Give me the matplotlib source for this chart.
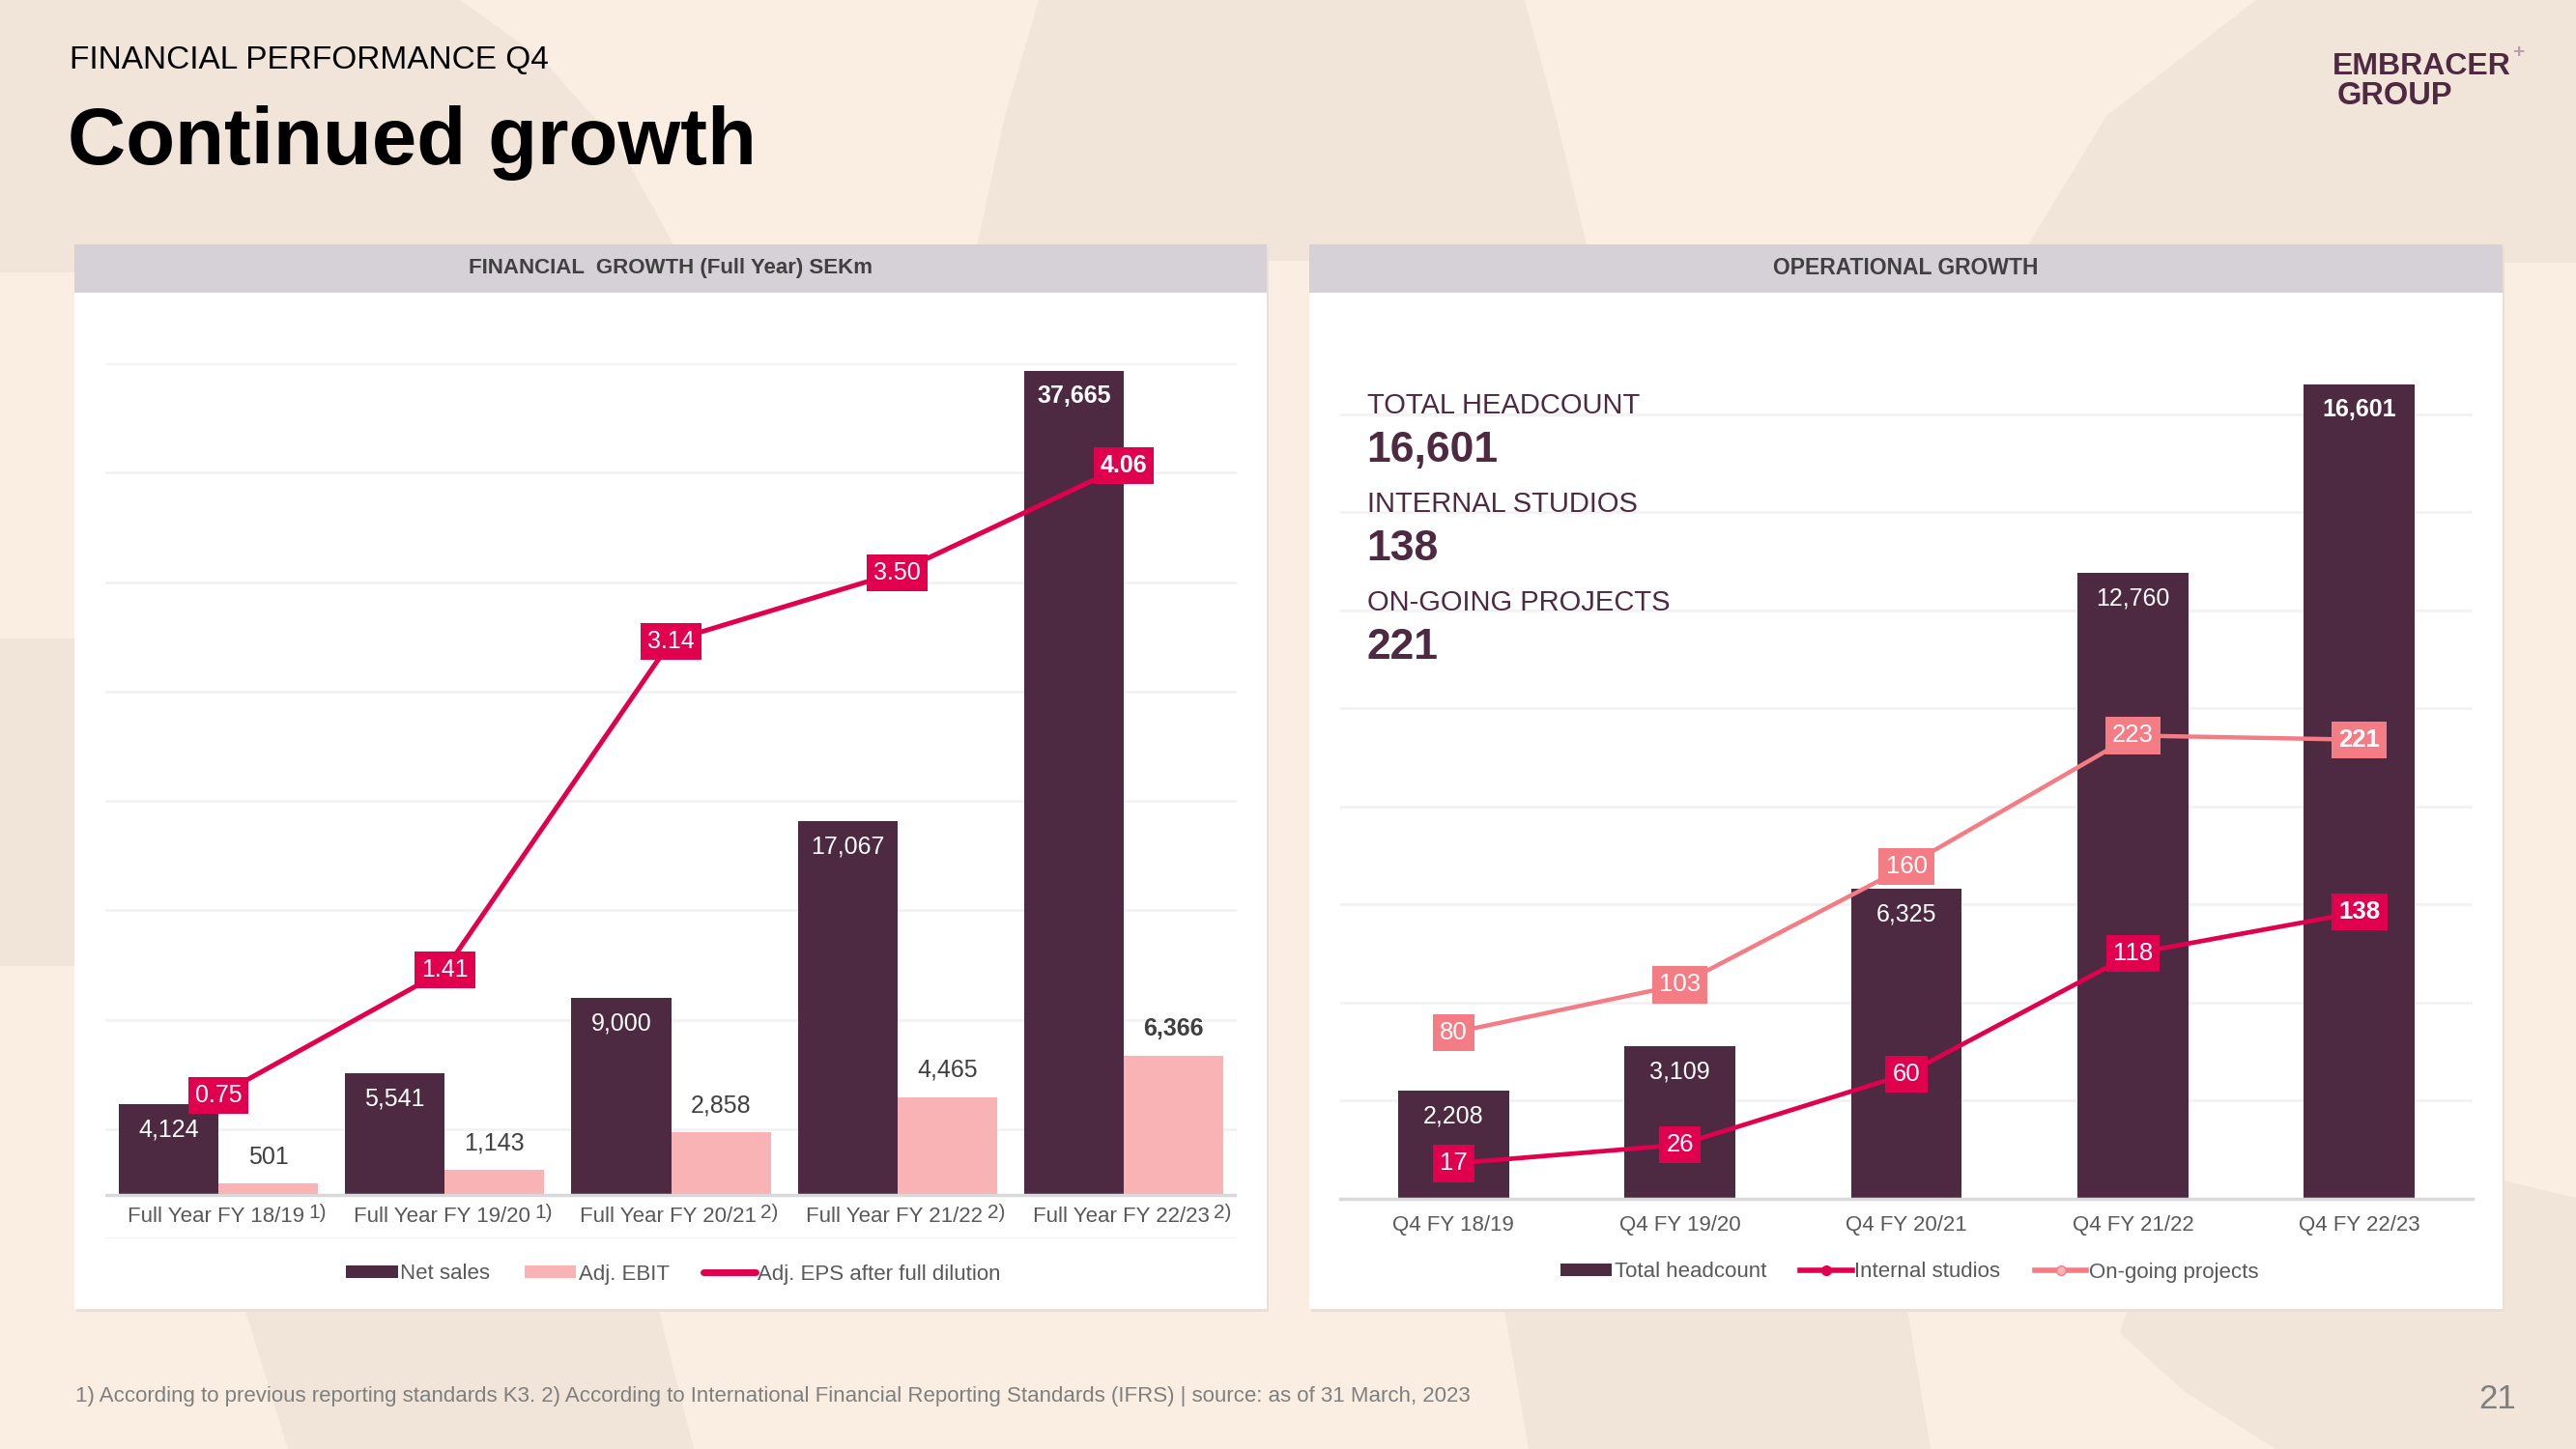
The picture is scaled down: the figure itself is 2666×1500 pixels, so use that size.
import matplotlib
matplotlib.use('Agg')
import matplotlib.pyplot as plt
from matplotlib.patches import Rectangle, Polygon, Patch
from matplotlib.lines import Line2D
import numpy as np

plt.rcParams['font.family'] = ['Liberation Sans', 'DejaVu Sans']

# ---- data ----
fin_years = ["Full Year FY 18/19", "Full Year FY 19/20", "Full Year FY 20/21",
             "Full Year FY 21/22", "Full Year FY 22/23"]
fin_notes = ["1)", "1)", "2)", "2)", "2)"]
net_sales = [4124, 5541, 9000, 17067, 37665]
adj_ebit = [501, 1143, 2858, 4465, 6366]
adj_eps = [0.75, 1.41, 3.14, 3.50, 4.06]

quarters = ["Q4 FY 18/19", "Q4 FY 19/20", "Q4 FY 20/21", "Q4 FY 21/22", "Q4 FY 22/23"]
headcount = [2208, 3109, 6325, 12760, 16601]
studios = [17, 26, 60, 118, 138]
projects = [80, 103, 160, 223, 221]

PLUM = '#4E2942'
PINK = '#F9B3B4'
CRIMSON = '#E0004D'
SALMON = '#F47C84'
GREY_TXT = '#595959'
GRID = '#F2F2F2'
BASE = '#D9D9D9'
LIGHT_BG = '#FAEEE2'
DARK_BG = '#F1E4D8'

W, H = 2666, 1500
fig = plt.figure(figsize=(W / 100, H / 100), dpi=100)
fig.patch.set_facecolor(LIGHT_BG)


def fx(px):
    return px / W


def fy(py):
    return 1 - py / H


# ---- background decoration (pixel coords) ----
bg = fig.add_axes([0, 0, 1, 1], zorder=-10)
bg.set_xlim(0, W)
bg.set_ylim(H, 0)
bg.axis('off')
shapes = [
    [(0, 0), (476, 0), (560, 60), (640, 150), (697, 253), (697, 282), (0, 282)],
    [(1075, 0), (1578, 0), (1610, 120), (1646, 270), (1008, 270), (1040, 120)],
    [(2335, 0), (2666, 0), (2666, 272), (2088, 272), (2180, 120)],
    [(0, 661), (80, 661), (80, 1000), (0, 1000)],
    [(2666, 1240), (2590, 1222), (2400, 1230), (2220, 1300), (2194, 1380),
     (2260, 1440), (2355, 1500), (2666, 1500)],
    [(252, 1350), (680, 1350), (718, 1500), (298, 1500)],
    [(1556, 1350), (1973, 1350), (1998, 1500), (1582, 1500)],
]
for pts in shapes:
    bg.add_patch(Polygon(pts, closed=True, fc=DARK_BG, ec='none'))

# panels
for x0, x1 in [(77, 1311), (1355, 2590)]:
    bg.add_patch(Rectangle((x0 + 2, 256), x1 - x0, 1355 - 253, fc='#E9DFD6', ec='none'))
    bg.add_patch(Rectangle((x0, 253), x1 - x0, 1355 - 253, fc='white', ec='none'))
    bg.add_patch(Rectangle((x0, 253), x1 - x0, 50, fc='#D6D1D6', ec='none'))

fig.text(fx(694), fy(278), 'FINANCIAL  GROWTH (Full Year) SEKm', ha='center', va='center',
         fontsize=16, fontweight='bold', color='#404040')
fig.text(fx(1972), fy(278), 'OPERATIONAL GROWTH', ha='center', va='center',
         fontsize=16.5, fontweight='bold', color='#404040')

# titles
fig.text(fx(72), fy(71), 'FINANCIAL PERFORMANCE Q4', fontsize=24, va='baseline', color='black')
fig.text(fx(70), fy(170), 'Continued growth', fontsize=60, fontweight='bold', va='baseline',
         color='black')

# logo
fig.text(fx(2414), fy(77), 'EMBRACER', fontsize=23, fontweight='bold', va='baseline', color=PLUM)
fig.text(fx(2419), fy(108), 'GROUP', fontsize=23.5, fontweight='bold', va='baseline', color=PLUM)
fig.text(fx(2600), fy(60), '+', fontsize=15, fontweight='bold', va='baseline', color='#B89CAE')

# footnote + page
fig.text(fx(78), fy(1446),
         '1) According to previous reporting standards K3. 2) According to International Financial '
         'Reporting Standards (IFRS) | source: as of 31 March, 2023',
         fontsize=16, va='center', color='#7F7F7F')
fig.text(fx(2604), fy(1449), '21', fontsize=25, ha='right', va='center', color='#7F7F7F')

# ---- left chart: financial growth ----
x = np.arange(len(fin_years))
bw = 0.44
last = len(x) - 1
ax1 = fig.add_axes([fx(109), fy(1282), fx(1280) - fx(109), fy(376) - fy(1282)])
ax1.patch.set_alpha(0)
b_ns = ax1.bar(x - bw / 2, net_sales, bw, color=PLUM, zorder=2)
b_eb = ax1.bar(x + bw / 2, adj_ebit, bw, color=PINK, zorder=2)
ax1.set_xlim(-0.5, 4.5)
ax1.set_ylim(-2000, 38000)
ax1.set_yticks(np.arange(-2000, 38001, 5000))
ax1.grid(axis='y', color=GRID, lw=2)
ax1.set_axisbelow(True)
for s in ax1.spines.values():
    s.set_visible(False)
ax1.axhline(0, color=BASE, lw=2.5, zorder=3)

for i, v in enumerate(net_sales):
    ax1.annotate(f'{v:,}', (x[i] - bw / 2, v), xytext=(0, -19), textcoords='offset points',
                 ha='center', va='center', fontsize=18, color='white',
                 fontweight='bold' if i == last else 'normal', zorder=4)
for i, v in enumerate(adj_ebit):
    ax1.annotate(f'{v:,}', (x[i] + bw / 2, v), xytext=(0, 20), textcoords='offset points',
                 ha='center', va='center', fontsize=18, color='#404040',
                 fontweight='bold' if i == last else 'normal', zorder=4)
for i, (name, note) in enumerate(zip(fin_years, fin_notes)):
    t = ax1.annotate(name, (x[i], -1000), xytext=(-2, 0), textcoords='offset points',
                     ha='center', va='center', fontsize=16, color=GREY_TXT)
    ax1.annotate(note, xy=(1, 0.5), xycoords=t, xytext=(3, 2.5), textcoords='offset points',
                 ha='left', va='center', fontsize=15, color=GREY_TXT)

ax1b = ax1.twinx()
ax1b.set_ylim(0, 4.6)
ax1b.axis('off')
ax1b.plot(x, adj_eps, color=CRIMSON, lw=3.6, solid_capstyle='round')
for i, v in enumerate(adj_eps):
    ax1b.text(x[i], v, f'{v:.2f}', ha='center', va='center', fontsize=18, color='white',
              fontweight='bold' if i == last else 'normal',
              bbox=dict(boxstyle='square,pad=0.28', fc=CRIMSON, ec='none'))
ax1.tick_params(left=False, labelleft=False, right=False, labelright=False,
                bottom=False, labelbottom=False)

fig.legend(handles=[Patch(fc=PLUM), Patch(fc=PINK),
                    Line2D([], [], color=CRIMSON, lw=5, solid_capstyle='round')],
           labels=['Net sales', 'Adj. EBIT', 'Adj. EPS after full dilution'],
           loc='center', bbox_to_anchor=(fx(697), fy(1319)), ncol=3, frameon=False,
           fontsize=16, labelcolor=GREY_TXT, handlelength=2.4, handleheight=0.5,
           handletextpad=0.12, columnspacing=1.6)

# ---- right chart: operational growth ----
q = np.arange(len(quarters))
ax2 = fig.add_axes([fx(1387), fy(1241), fx(2559) - fx(1387), fy(327) - fy(1241)])
ax2.patch.set_alpha(0)
b_hc = ax2.bar(q, headcount, 0.49, color=PLUM, zorder=2)
ax2.set_xlim(-0.5, 4.5)
ax2.set_ylim(0, 18000)
ax2.set_yticks(np.arange(0, 16001, 2000))
ax2.grid(axis='y', color=GRID, lw=2)
ax2.set_axisbelow(True)
for s in ['top', 'left', 'right']:
    ax2.spines[s].set_visible(False)
ax2.spines['bottom'].set_color(BASE)
ax2.spines['bottom'].set_linewidth(2.5)
ax2.set_xticks(q)
ax2.set_xticklabels(quarters, fontsize=16, color=GREY_TXT)

for i, v in enumerate(headcount):
    ax2.annotate(f'{v:,}', (q[i], v), xytext=(0, -19), textcoords='offset points',
                 ha='center', va='center', fontsize=18, color='white',
                 fontweight='bold' if i == last else 'normal', zorder=4)

ax2b = ax2.twinx()
ax2b.set_ylim(0, 425)
ax2b.axis('off')
ax2b.plot(q, projects, color=SALMON, lw=3.2)
ax2b.plot(q, studios, color=CRIMSON, lw=3.4)
for series, col in [(projects, SALMON), (studios, CRIMSON)]:
    for i, v in enumerate(series):
        ax2b.text(q[i], v, f'{v}', ha='center', va='center', fontsize=18.5, color='white',
                  fontweight='bold' if i == last else 'normal',
                  bbox=dict(boxstyle='square,pad=0.28', fc=col, ec='none'))
ax2.tick_params(left=False, labelleft=False, right=False, labelright=False, length=0, pad=12)

fig.legend(handles=[Patch(fc=PLUM),
                    Line2D([], [], color=CRIMSON, lw=4, marker='o', ms=7),
                    Line2D([], [], color=SALMON, lw=4, marker='o', ms=7, mfc='#F9B3B4')],
           labels=['Total headcount', 'Internal studios', 'On-going projects'],
           loc='center', bbox_to_anchor=(fx(1976), fy(1317)), ncol=3, frameon=False,
           fontsize=16, labelcolor=GREY_TXT, handlelength=2.4, handleheight=0.5,
           handletextpad=0.12, columnspacing=1.6)

# headline figures
for label, value, y_lab, y_val in [('TOTAL HEADCOUNT', '16,601', 428, 478),
                                   ('INTERNAL STUDIOS', '138', 530, 580),
                                   ('ON-GOING PROJECTS', '221', 632, 682)]:
    fig.text(fx(1415), fy(y_lab), label, fontsize=21, va='baseline', color=PLUM)
    fig.text(fx(1414), fy(y_val), value, fontsize=32, fontweight='bold', va='baseline', color=PLUM)

fig.savefig('out.png', dpi=100, facecolor=fig.get_facecolor())
